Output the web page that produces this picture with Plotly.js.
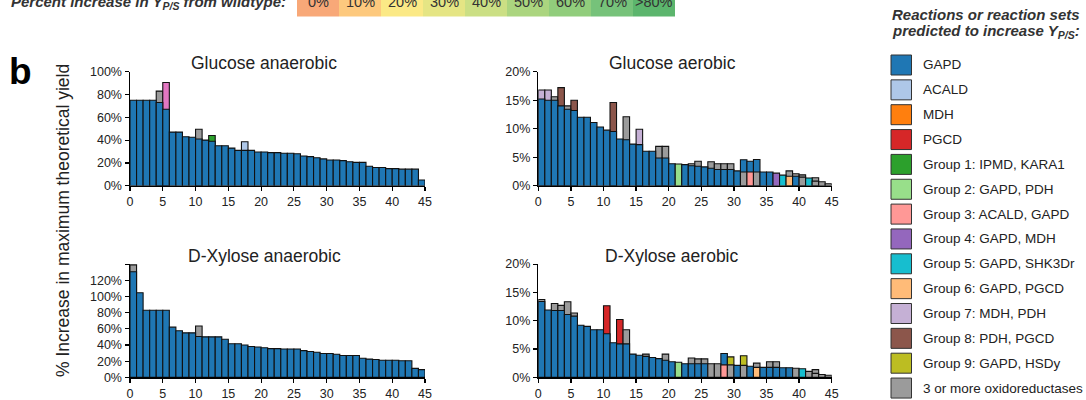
<!DOCTYPE html>
<html><head><meta charset="utf-8">
<script src="https://cdn.plot.ly/plotly-3.0.1.min.js"></script>
<style>html,body{margin:0;padding:0;background:#fff}#chart{width:1086px;height:400px}</style>
</head><body><div id="chart"></div>
<script>
// ---------- DATA ----------
const rank = [0,1,2,3,4,5,6,7,8,9,10,11,12,13,14,15,16,17,18,19,20,21,22,23,24,25,26,27,28,29,30,31,32,33,34,35,36,37,38,39,40,41,42,43,44];
const xTicks = [0,5,10,15,20,25,30,35,40,45];
const xTickText = ['0','5','10','15','20','25','30','35','40','45'];

const panelTitles = ['Glucose anaerobic','Glucose aerobic','D-Xylose anaerobic','D-Xylose aerobic'];

// Glucose anaerobic
const ga_base = [75,75,75,75,73,67,47,47,43,42.5,41,40,39,35,35,33,31,31,31,29.5,29.5,29,29,28.5,28.5,28,26,25.5,24.5,23.5,22.5,22.5,22,21,20.5,20.5,17,16,16,15,15,14.5,14.5,14.5,5];
const ga_base_set = ['GAPD','GAPD','GAPD','GAPD','GAPD','GAPD','GAPD','GAPD','GAPD','GAPD','GAPD','GAPD','GAPD','GAPD','GAPD','GAPD','GAPD','GAPD','GAPD','GAPD','GAPD','GAPD','GAPD','GAPD','GAPD','GAPD','GAPD','GAPD','GAPD','GAPD','GAPD','GAPD','GAPD','GAPD','GAPD','GAPD','GAPD','GAPD','GAPD','GAPD','GAPD','GAPD','GAPD','GAPD','GAPD'];
const ga_top = [null,null,null,null,83,90.5,null,null,null,null,49.5,null,44,null,null,null,null,38.5,null,null,null,null,null,null,null,null,null,null,null,null,null,null,null,null,null,null,null,null,null,null,null,null,null,null,null];
const ga_top_set = [null,null,null,null,'OX3','PINK',null,null,null,null,'OX3',null,'G1',null,null,null,null,'ACALD',null,null,null,null,null,null,null,null,null,null,null,null,null,null,null,null,null,null,null,null,null,null,null,null,null,null,null];

// Glucose aerobic
const gae_base = [15.2,15.0,15.0,14.0,13.4,13.2,12.0,12.0,11.1,10.3,9.75,9.5,8.2,8.05,7.3,7.2,6.05,6.05,4.85,4.85,3.85,3.8,3.7,3.5,3.4,3.3,3.05,2.85,2.85,2.85,2.6,2.4,2.4,2.4,2.4,2.4,2.2,1.85,1.65,1.65,1.5,1.35,0.8,0.7,0.35];
const gae_base_set = ['GAPD','GAPD','GAPD','GAPD','GAPD','GAPD','GAPD','GAPD','GAPD','GAPD','GAPD','GAPD','GAPD','GAPD','GAPD','GAPD','GAPD','GAPD','GAPD','GAPD','GAPD','G2','GAPD','GAPD','GAPD','GAPD','GAPD','GAPD','GAPD','GAPD','GAPD','OX3','G3','OX3','GAPD','GAPD','G4','G5','G6','GAPD','OX3','G5','OX3','OX3','OX3'];
const gae_top = [16.8,16.8,15.6,17.2,14.0,15.0,null,null,null,null,null,14.6,null,12.1,null,9.9,null,null,6.9,6.9,null,null,null,3.85,4.3,null,4.2,3.85,3.85,3.85,null,4.55,4.3,4.6,null,null,null,null,2.6,2.1,1.9,null,1.4,null,null];
const gae_top_set = ['G7','G7','OX3','G8','OX3','G8',null,null,null,null,null,'G8',null,'OX3',null,'G7',null,null,'OX3','OX3',null,null,null,'OX3','OX3',null,'OX3','OX3','OX3','OX3',null,'GAPD','GAPD','GAPD',null,null,null,null,'OX3','OX3','OX3',null,'OX3',null,null];

// D-Xylose anaerobic
const xa_base = [130.5,104.5,83,83,83,83,62,57.5,55,55,50.5,50,50,50,47,41.5,41.5,40,38,37.5,36.5,35.5,35.5,35,35,35,33,32,31,29.5,29.5,28.5,27,27,27,23.5,22.5,22,21,21,21,20.5,20.5,11,9.5];
const xa_base_set = ['GAPD','GAPD','GAPD','GAPD','GAPD','GAPD','GAPD','GAPD','GAPD','GAPD','GAPD','GAPD','GAPD','GAPD','GAPD','GAPD','GAPD','GAPD','GAPD','GAPD','GAPD','GAPD','GAPD','GAPD','GAPD','GAPD','GAPD','GAPD','GAPD','GAPD','GAPD','GAPD','GAPD','GAPD','GAPD','GAPD','GAPD','GAPD','GAPD','GAPD','GAPD','GAPD','GAPD','GAPD','GAPD'];
const xa_top = [139,null,null,null,null,null,null,null,null,null,63.5,null,null,null,null,null,null,null,null,null,null,null,null,null,null,null,null,null,null,null,null,null,null,null,null,null,null,null,null,null,null,null,null,null,null];
const xa_top_set = ['OX3',null,null,null,null,null,null,null,null,null,'OX3',null,null,null,null,null,null,null,null,null,null,null,null,null,null,null,null,null,null,null,null,null,null,null,null,null,null,null,null,null,null,null,null,null,null];

// D-Xylose aerobic
const xae_base = [13.4,11.9,11.8,11.8,11.1,10.8,9.2,9.0,8.4,8.4,7.7,6.1,5.9,5.9,4.1,3.9,3.7,3.5,3.3,3.0,2.75,2.65,2.4,2.4,2.4,2.4,2.4,2.4,2.2,2.2,2.1,2.1,1.95,1.75,1.75,1.75,1.75,1.7,1.7,1.6,1.5,1.05,0.7,0.5,0.35];
const xae_base_set = ['GAPD','GAPD','GAPD','GAPD','GAPD','GAPD','GAPD','GAPD','GAPD','GAPD','GAPD','GAPD','GAPD','GAPD','GAPD','GAPD','GAPD','GAPD','GAPD','GAPD','GAPD','G2','GAPD','GAPD','GAPD','GAPD','OX3','OX3','G3','OX3','GAPD','OX3','GAPD','G6','GAPD','GAPD','GAPD','GAPD','GAPD','OX3','G5','OX3','OX3','OX3','OX3'];
const xae_top = [13.75,null,13.05,12.7,13.35,11.35,null,null,null,null,12.65,null,10.2,8.4,null,null,4.1,null,null,4.1,null,null,null,3.4,3.25,3.25,null,null,4.2,3.6,null,3.8,null,2.5,null,2.75,2.75,null,null,null,null,null,1.35,null,null];
const xae_top_set = ['OX3',null,'OX3','OX3','OX3','OX3',null,null,null,null,'PGCD',null,'PGCD','OX3',null,null,'OX3',null,null,'OX3',null,null,null,'OX3','OX3','OX3',null,null,'GAPD','G9',null,'G9',null,'OX3',null,'OX3','OX3',null,null,null,null,null,'OX3',null,null];

// y ticks
const ga_yticks = [0,20,40,60,80,100];
const ga_yticktext = ['0%','20%','40%','60%','80%','100%'];
const aer_yticks = [0,5,10,15,20];
const aer_yticktext = ['0%','5%','10%','15%','20%'];
const xa_yticks = [0,20,40,60,80,100,120];
const xa_yticktext = ['0%','20%','40%','60%','80%','100%','120%'];
const xa_unlabelled_ticks = [140];

// legend
const legend_keys = ['GAPD','ACALD','MDH','PGCD','G1','G2','G3','G4','G5','G6','G7','G8','G9','OX3'];
const legend_labels = ['GAPD','ACALD','MDH','PGCD','Group 1: IPMD, KARA1','Group 2: GAPD, PDH','Group 3: ACALD, GAPD','Group 4: GAPD, MDH','Group 5: GAPD, SHK3Dr','Group 6: GAPD, PGCD','Group 7: MDH, PDH','Group 8: PDH, PGCD','Group 9: GAPD, HSDy','3 or more oxidoreductases'];

// percent-increase scale strip
const scale_labels = ['0%','10%','20%','30%','40%','50%','60%','70%','>80%'];

// ---------- STYLE ----------
const setColor = {
  GAPD:'#1f77b4', ACALD:'#aec7e8', MDH:'#ff7f0e', PGCD:'#d62728',
  G1:'#2ca02c', G2:'#98df8a', G3:'#ff9896', G4:'#9467bd', G5:'#17becf',
  G6:'#ffbb78', G7:'#c5b0d5', G8:'#8c564b', G9:'#bcbd22', OX3:'#9b9b9b', PINK:'#e377c2'
};
const scaleColors = ['#f8a878','#fdc97e','#fbe986','#e5e584','#cbdf84','#abd57f','#91cd7c','#76c27a','#5cb56d'];
const FONT = 'Liberation Sans, Arial, Helvetica, sans-serif';
const W = 1086, H = 400;
const px = v => v / W;
const py = v => 1 - v / H;

function col(arr){ return arr.map(k => k ? setColor[k] : 'rgba(0,0,0,0)'); }
function barTrace(y, sets, xa, ya){
  return {type:'bar', x:rank, y:y, width:1, offset:0, xaxis:xa, yaxis:ya,
    marker:{color:col(sets), opacity:1, line:{color:'#111', width:1.1}},
    hoverinfo:'skip', showlegend:false};
}

const panels = [
  {top:ga_top, topSet:ga_top_set, base:ga_base, baseSet:ga_base_set, xa:'x', ya:'y'},
  {top:gae_top, topSet:gae_top_set, base:gae_base, baseSet:gae_base_set, xa:'x2', ya:'y2'},
  {top:xa_top, topSet:xa_top_set, base:xa_base, baseSet:xa_base_set, xa:'x3', ya:'y3'},
  {top:xae_top, topSet:xae_top_set, base:xae_base, baseSet:xae_base_set, xa:'x4', ya:'y4'}
];
const data = [];
panels.forEach(p => {
  data.push(barTrace(p.top, p.topSet, p.xa, p.ya));
  data.push(barTrace(p.base, p.baseSet, p.xa, p.ya));
});

const leftDom = [px(130), px(425)];
const rightDom = [px(538.3), px(831.7)];
const topDom = [py(185.7), py(71.7)];
const botDom = [py(377.3), py(264.1)];

function xAxis(dom, anchor){
  return {domain:dom, anchor:anchor, range:[0,45], tickmode:'array', tickvals:xTicks, ticktext:xTickText,
    showline:true, linecolor:'#000', linewidth:1.5, ticks:'outside', ticklen:4, tickwidth:1.2, tickcolor:'#000',
    tickfont:{family:FONT, size:12.5, color:'#222'}, showgrid:false, zeroline:false, fixedrange:true};
}
function yAxis(dom, anchor, range, tv, tt){
  return {domain:dom, anchor:anchor, range:range, tickmode:'array', tickvals:tv, ticktext:tt,
    showline:true, linecolor:'#000', linewidth:1.5, ticks:'outside', ticklen:4, tickwidth:1.2, tickcolor:'#000',
    tickfont:{family:FONT, size:12.5, color:'#222'}, showgrid:false, zeroline:false, fixedrange:true};
}

const annotations = [];
const shapes = [];
// panel titles
const titlePos = [[264,63],[672,63],[264,256],[672,256]];
panelTitles.forEach((t,i) => annotations.push({text:t, xref:'paper', yref:'paper', x:px(titlePos[i][0]), y:py(titlePos[i][1]),
  xanchor:'center', yanchor:'middle', showarrow:false, font:{family:FONT, size:17.5, color:'#222'}}));
// y title
annotations.push({text:'% Increase in maximum theoretical yield', xref:'paper', yref:'paper', x:px(63), y:py(221),
  textangle:-90, xanchor:'center', yanchor:'middle', showarrow:false, font:{family:FONT, size:17.5, color:'#222'}});
// panel letter
annotations.push({text:'<b>b</b>', xref:'paper', yref:'paper', x:px(7), y:py(72), xanchor:'left', yanchor:'middle',
  showarrow:false, font:{family:FONT, size:37, color:'#000'}});
// top strip
annotations.push({text:'<b><i>Percent increase in Y<sub>P/S</sub> from wildtype:</i></b>', xref:'paper', yref:'paper',
  x:px(9), y:py(2), xanchor:'left', yanchor:'middle', showarrow:false, font:{family:FONT, size:15, color:'#333'}});
scale_labels.forEach((s,i) => {
  shapes.push({type:'rect', xref:'paper', yref:'paper', x0:px(297+42*i), x1:px(297+42*(i+1)), y0:py(16.5), y1:py(-2),
    fillcolor:scaleColors[i], line:{width:0}});
  annotations.push({text:s, xref:'paper', yref:'paper', x:px(297+42*i+21), y:py(2), xanchor:'center', yanchor:'middle',
    showarrow:false, font:{family:FONT, size:14.5, color:'#333'}});
});
// legend title
annotations.push({text:'<b><i>Reactions or reaction sets</i></b>', xref:'paper', yref:'paper', x:px(890), y:py(15),
  xanchor:'left', yanchor:'middle', showarrow:false, font:{family:FONT, size:15, color:'#333'}});
annotations.push({text:'<b><i>predicted to increase Y<sub>P/S</sub>:</i></b>', xref:'paper', yref:'paper', x:px(890), y:py(32),
  xanchor:'left', yanchor:'middle', showarrow:false, font:{family:FONT, size:15, color:'#333'}});
legend_keys.forEach((k,i) => {
  const cy = 65 + 24.85*i;
  shapes.push({type:'rect', xref:'paper', yref:'paper', x0:px(891), x1:px(911.5), y0:py(cy+10), y1:py(cy-10),
    fillcolor:setColor[k], line:{color:'#333', width:1}});
  annotations.push({text:legend_labels[i], xref:'paper', yref:'paper', x:px(921), y:py(cy), xanchor:'left', yanchor:'middle',
    showarrow:false, font:{family:FONT, size:13.5, color:'#222'}});
});

const layout = {
  width:W, height:H, margin:{l:0,r:0,t:0,b:0}, paper_bgcolor:'#fff', plot_bgcolor:'rgba(0,0,0,0)',
  barmode:'overlay', showlegend:false,
  xaxis:xAxis(leftDom,'y'), yaxis:yAxis(topDom,'x',[0,100],ga_yticks,ga_yticktext),
  xaxis2:xAxis(rightDom,'y2'), yaxis2:yAxis(topDom,'x2',[0,20],aer_yticks,aer_yticktext),
  xaxis3:xAxis(leftDom,'y3'), yaxis3:Object.assign(yAxis(botDom,'x3',[0,140],xa_yticks,xa_yticktext),
      {minor:{tickmode:'array', tickvals:xa_unlabelled_ticks, ticks:'outside', ticklen:4, tickwidth:1.2, tickcolor:'#000', showgrid:false}}),
  xaxis4:xAxis(rightDom,'y4'), yaxis4:yAxis(botDom,'x4',[0,20],aer_yticks,aer_yticktext),
  annotations:annotations, shapes:shapes
};
Plotly.newPlot('chart', data, layout, {staticPlot:true, displayModeBar:false});
</script></body></html>
